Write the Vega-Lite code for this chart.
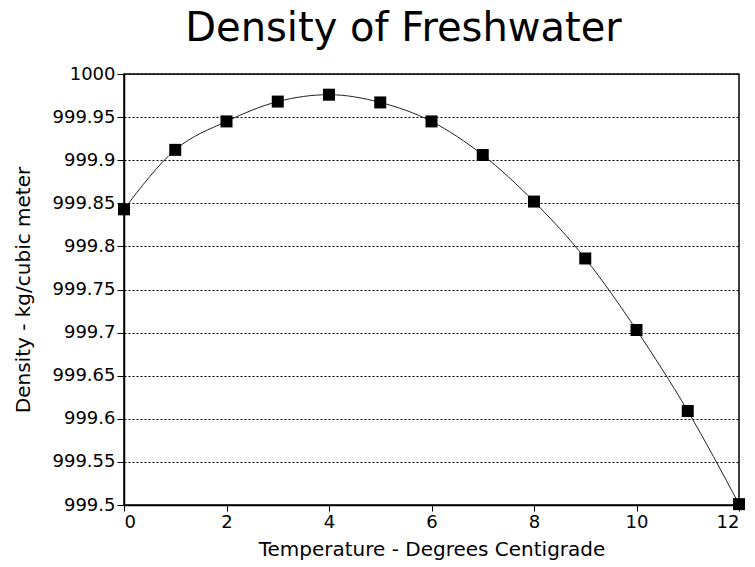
{
  "$schema": "https://vega.github.io/schema/vega-lite/v6.json",
  "width": 615,
  "height": 431,
  "autosize": {"type": "none"},
  "padding": {"left": 124, "top": 74, "right": 16, "bottom": 62},
  "background": "white",
  "title": {"text": "Density of Freshwater", "font": "DejaVu Sans", "fontSize": 40, "fontWeight": "normal", "color": "black", "offset": 16, "dx": -28},
  "config": {
    "view": {"stroke": "black", "strokeWidth": 1.5},
    "axis": {"labelFont": "DejaVu Sans", "titleFont": "DejaVu Sans", "labelFontSize": 18, "titleFontSize": 20, "titleFontWeight": "normal", "labelColor": "black", "titleColor": "black", "domainColor": "black", "tickColor": "black", "tickSize": 7, "domainWidth": 1.5}
  },
  "data": {"values": [
    {"t": 0, "d": 999.843},
    {"t": 1, "d": 999.912},
    {"t": 2, "d": 999.945},
    {"t": 3, "d": 999.968},
    {"t": 4, "d": 999.976},
    {"t": 5, "d": 999.967},
    {"t": 6, "d": 999.945},
    {"t": 7, "d": 999.906},
    {"t": 8, "d": 999.852},
    {"t": 9, "d": 999.786},
    {"t": 10, "d": 999.703},
    {"t": 11, "d": 999.609},
    {"t": 12, "d": 999.501}
  ]},
  "encoding": {
    "x": {"field": "t", "type": "quantitative", "scale": {"domain": [0, 12], "nice": false}, "axis": {"title": "Temperature - Degrees Centigrade", "values": [0, 2, 4, 6, 8, 10, 12], "grid": false, "tickSize": 6, "labelPadding": 2, "titlePadding": 8}},
    "y": {"field": "d", "type": "quantitative", "scale": {"domain": [999.5, 1000], "nice": false, "zero": false}, "axis": {"title": "Density - kg/cubic meter", "values": [999.5, 999.55, 999.6, 999.65, 999.7, 999.75, 999.8, 999.85, 999.9, 999.95, 1000], "format": ".2~f", "grid": true, "gridColor": "black", "gridDash": [2, 2], "gridWidth": 1, "labelPadding": 2, "titlePadding": 19}}
  },
  "layer": [
    {"mark": {"type": "line", "interpolate": "monotone", "color": "#222222", "strokeWidth": 1}},
    {"mark": {"type": "square", "filled": true, "color": "black", "opacity": 1, "size": 144}}
  ]
}
